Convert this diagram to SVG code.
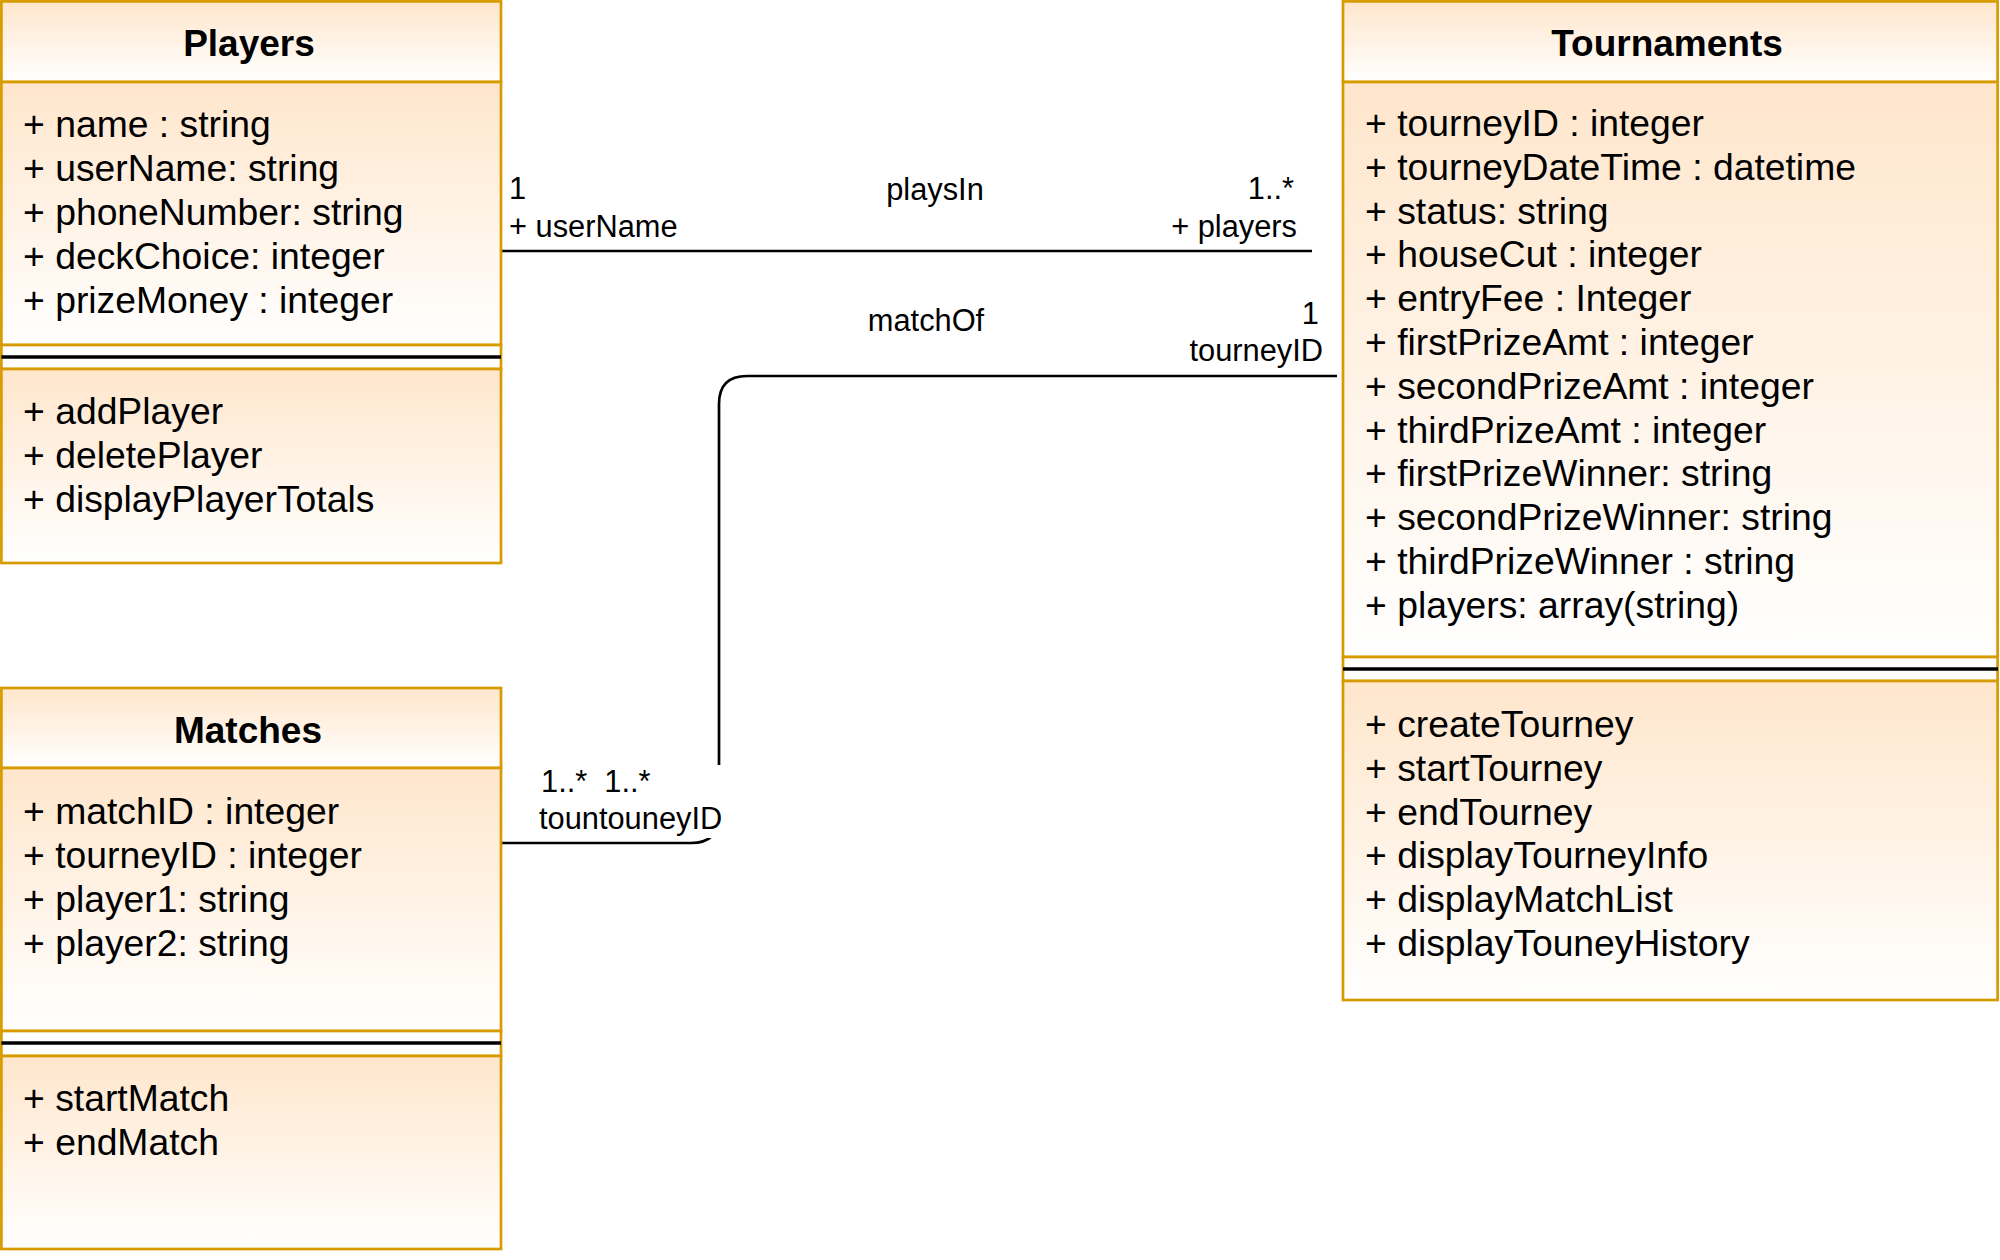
<svg xmlns="http://www.w3.org/2000/svg" width="2000" height="1260" viewBox="0 0 2000 1260">
  <defs>
    <linearGradient id="peach" x1="0" y1="0" x2="0" y2="1">
      <stop offset="0" stop-color="#ffe6cc"/>
      <stop offset="1" stop-color="#ffffff"/>
    </linearGradient>
    <style>
      .box { fill: url(#peach); stroke: #d79b00; stroke-width: 2.7; }
      .spacer { fill: #ffffff; stroke: #d79b00; stroke-width: 2.7; }
      .sep { stroke: #000000; stroke-width: 3.5; }
      .title { font-family: "Liberation Sans", Arial, Helvetica, sans-serif; font-size: 37px; font-weight: bold; fill: #000; text-anchor: middle; }
      .item { font-family: "Liberation Sans", Arial, Helvetica, sans-serif; font-size: 37.3px; fill: #000; }
      .lbl { font-family: "Liberation Sans", Arial, Helvetica, sans-serif; font-size: 30.8px; fill: #000; }
      .edge { fill: none; stroke: #000000; stroke-width: 2.7; }
    </style>
  </defs>
  <rect x="0" y="0" width="2000" height="1260" fill="#ffffff"/>

  <g id="connectors">
    <g id="playsIn">
      <path class="edge" d="M501,251 H1312"/>
      <text class="lbl" x="509" y="199">1</text>
      <text class="lbl" x="509" y="237">+ userName</text>
      <text class="lbl" x="935" y="200" text-anchor="middle">playsIn</text>
      <text class="lbl" x="1294" y="199" text-anchor="end">1..*</text>
      <text class="lbl" x="1297" y="237" text-anchor="end">+ players</text>
    </g>
    <g id="matchOf">
      <path class="edge" d="M501,843 H691 Q719,843 719,815 V404 Q719,376 747,376 H1337"/>
      <rect x="536" y="765" width="194" height="73" fill="#ffffff"/>
      <text class="lbl" x="926" y="331" text-anchor="middle">matchOf</text>
      <text class="lbl" x="1319" y="324" text-anchor="end">1</text>
      <text class="lbl" x="1323" y="361" text-anchor="end">tourneyID</text>
      <text class="lbl" x="541" y="792" xml:space="preserve">1..*  1..*</text>
      <text class="lbl" x="539" y="829">tountouneyID</text>
    </g>
  </g>

  <g id="players">
    <rect class="box" x="1.4" y="1.4" width="499.6" height="80.6"/>
    <text class="title" x="249" y="56">Players</text>
    <rect class="box" x="1.4" y="82" width="499.6" height="263"/>
    <text class="item" x="23" y="137">+ name : string</text>
    <text class="item" x="23" y="181">+ userName: string</text>
    <text class="item" x="23" y="225">+ phoneNumber: string</text>
    <text class="item" x="23" y="269">+ deckChoice: integer</text>
    <text class="item" x="23" y="313">+ prizeMoney : integer</text>
    <rect class="spacer" x="1.4" y="345" width="499.6" height="24"/>
    <line class="sep" x1="1.4" y1="357" x2="501" y2="357"/>
    <rect class="box" x="1.4" y="369" width="499.6" height="194"/>
    <text class="item" x="23" y="424">+ addPlayer</text>
    <text class="item" x="23" y="468">+ deletePlayer</text>
    <text class="item" x="23" y="512">+ displayPlayerTotals</text>
  </g>

  <g id="matches">
    <rect class="box" x="1.4" y="688" width="499.6" height="80"/>
    <text class="title" x="248" y="743">Matches</text>
    <rect class="box" x="1.4" y="768" width="499.6" height="263"/>
    <text class="item" x="23" y="824">+ matchID : integer</text>
    <text class="item" x="23" y="868">+ tourneyID : integer</text>
    <text class="item" x="23" y="912">+ player1: string</text>
    <text class="item" x="23" y="956">+ player2: string</text>
    <rect class="spacer" x="1.4" y="1031" width="499.6" height="25"/>
    <line class="sep" x1="1.4" y1="1043" x2="501" y2="1043"/>
    <rect class="box" x="1.4" y="1056" width="499.6" height="193"/>
    <text class="item" x="23" y="1111">+ startMatch</text>
    <text class="item" x="23" y="1155">+ endMatch</text>
  </g>

  <g id="tournaments">
    <rect class="box" x="1343" y="1.4" width="654.6" height="80.6"/>
    <text class="title" x="1667" y="56">Tournaments</text>
    <rect class="box" x="1343" y="82" width="654.6" height="575"/>
    <text class="item" x="1365" y="136">+ tourneyID : integer</text>
    <text class="item" x="1365" y="179.8">+ tourneyDateTime : datetime</text>
    <text class="item" x="1365" y="223.6">+ status: string</text>
    <text class="item" x="1365" y="267.4">+ houseCut : integer</text>
    <text class="item" x="1365" y="311.2">+ entryFee : Integer</text>
    <text class="item" x="1365" y="355">+ firstPrizeAmt : integer</text>
    <text class="item" x="1365" y="398.8">+ secondPrizeAmt : integer</text>
    <text class="item" x="1365" y="442.6">+ thirdPrizeAmt : integer</text>
    <text class="item" x="1365" y="486.4">+ firstPrizeWinner: string</text>
    <text class="item" x="1365" y="530.2">+ secondPrizeWinner: string</text>
    <text class="item" x="1365" y="574">+ thirdPrizeWinner : string</text>
    <text class="item" x="1365" y="617.8">+ players: array(string)</text>
    <rect class="spacer" x="1343" y="657" width="654.6" height="24"/>
    <line class="sep" x1="1343" y1="669" x2="1998" y2="669"/>
    <rect class="box" x="1343" y="681" width="654.6" height="319"/>
    <text class="item" x="1365" y="737">+ createTourney</text>
    <text class="item" x="1365" y="780.8">+ startTourney</text>
    <text class="item" x="1365" y="824.6">+ endTourney</text>
    <text class="item" x="1365" y="868.4">+ displayTourneyInfo</text>
    <text class="item" x="1365" y="912.2">+ displayMatchList</text>
    <text class="item" x="1365" y="956">+ displayTouneyHistory</text>
  </g>
</svg>
